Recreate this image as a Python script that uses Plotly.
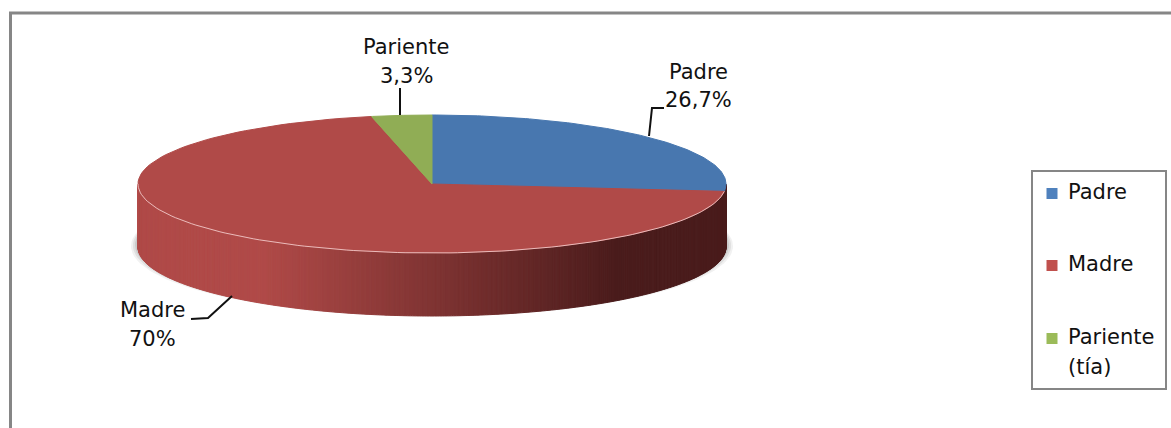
import numpy as np
import plotly.graph_objects as go

categories = ["Padre", "Madre", "Pariente"]
shares = [26.7, 70.0, 3.3]
share_labels = ["26,7%", "70%", "3,3%"]
legend_lines = ["Padre", "Madre", "Pariente", "(tía)"]

top_colors = ["#4877AF", "#B04A48", "#90AD55"]
legend_colors = ["#4F81BD", "#C0504D", "#9BBB59"]
frame_color = "#868686"
font = "DejaVu Sans"

# pie geometry in page pixels
cx, cy = 432, 184
rx, ry = 294, 69
depth = 63


def edge(t):
    # t is degrees clockwise from the top of the pie
    t = np.radians(t)
    return cx + rx * np.sin(t), cy - ry * np.cos(t)


def wall_color(x):
    # side of the pie darkens from left to right
    f = np.clip((x - 265) / (620 - 265), 0, 1)
    a, b = np.array([176, 74, 72]), np.array([74, 28, 28])
    r, g, bl = (a + (b - a) * f).astype(int)
    return f"rgb({r},{g},{bl})"


fig = go.Figure()


def add_poly(xs, ys, fill, line=None, width=1):
    fig.add_trace(go.Scatter(
        x=xs, y=ys, mode="lines", fill="toself", fillcolor=fill,
        line=dict(color=line or fill, width=width), hoverinfo="skip", showlegend=False,
    ))


# soft shadow under the pie
for grow, alpha in [(7, 0.10), (5, 0.15), (3, 0.20), (1, 0.25)]:
    t = np.linspace(0, 360, 181)
    add_poly(cx + (rx + grow) * np.sin(np.radians(t)),
             cy + 60 + grow * 0.3 - (ry + grow * 0.2) * np.cos(np.radians(t)),
             f"rgba(120,120,120,{alpha})", line="rgba(0,0,0,0)", width=0)

starts = np.cumsum([0] + shares[:-1]) * 3.6
ends = np.cumsum(shares) * 3.6

# side wall, front half only
ts = np.arange(90, 270, 0.5).tolist() + [270]
for t0, t1 in zip(ts[:-1], ts[1:]):
    x0, y0 = edge(t0)
    x1, y1 = edge(t1)
    add_poly([x0, x1, x1, x0, x0], [y0, y1, y1 + depth, y0 + depth, y0], wall_color((x0 + x1) / 2))

# top face
for i in range(len(shares)):
    t = np.linspace(starts[i], ends[i], 120)
    x, y = edge(t)
    add_poly(np.r_[cx, x, cx], np.r_[cy, y, cy], top_colors[i])

# light rim along the front of the top face
t = np.linspace(starts[1], 270, 120)
x, y = edge(t)
fig.add_trace(go.Scatter(x=x, y=y, mode="lines", line=dict(color="rgba(255,225,225,0.75)", width=1),
                         hoverinfo="skip", showlegend=False))

# leader lines
leaders = [
    ([649, 652, 664], [136, 108, 108]),
    ([232, 208, 191], [296, 318, 319]),
    ([400, 400], [88, 115]),
]
for lx, ly in leaders:
    fig.add_trace(go.Scatter(x=lx, y=ly, mode="lines", line=dict(color="#111111", width=2),
                             hoverinfo="skip", showlegend=False))

# legend swatches
swatch_y = [193.5, 265.5, 338.5]
fig.add_trace(go.Scatter(x=[1052] * 3, y=swatch_y, mode="markers",
                         marker=dict(symbol="square", size=11, color=legend_colors),
                         hoverinfo="skip", showlegend=False))

label_pos = [(698, 72, 100), (152, 310, 339), (406, 47, 76)]
annotations = []
for i, (lx, y1, y2) in enumerate(label_pos):
    for y, text in [(y1, categories[i]), (y2, share_labels[i])]:
        annotations.append(dict(x=lx, y=y, text=text, showarrow=False, xanchor="center", yanchor="middle"))
for y, text in zip([192, 264, 337, 367], legend_lines):
    annotations.append(dict(x=1066, y=y, text=text, showarrow=False, xanchor="left", yanchor="middle"))

shapes = [
    dict(type="line", x0=9, x1=1171, y0=13, y1=13, line=dict(color=frame_color, width=3)),
    dict(type="line", x0=10.5, x1=10.5, y0=12, y1=428, line=dict(color=frame_color, width=3)),
    dict(type="rect", x0=1032, x1=1166, y0=171, y1=389, line=dict(color=frame_color, width=2)),
]

fig.update_layout(
    width=1171, height=428,
    margin=dict(l=0, r=0, t=0, b=0),
    paper_bgcolor="white", plot_bgcolor="white",
    showlegend=False,
    font=dict(family=font, size=21, color="#111111"),
    xaxis=dict(range=[0, 1171], visible=False, fixedrange=True),
    yaxis=dict(range=[428, 0], visible=False, fixedrange=True),
    annotations=annotations,
    shapes=shapes,
)

fig.write_html("out.html", config={"displayModeBar": False},
               post_script="document.body.style.margin='0';document.body.style.overflow='hidden';")
